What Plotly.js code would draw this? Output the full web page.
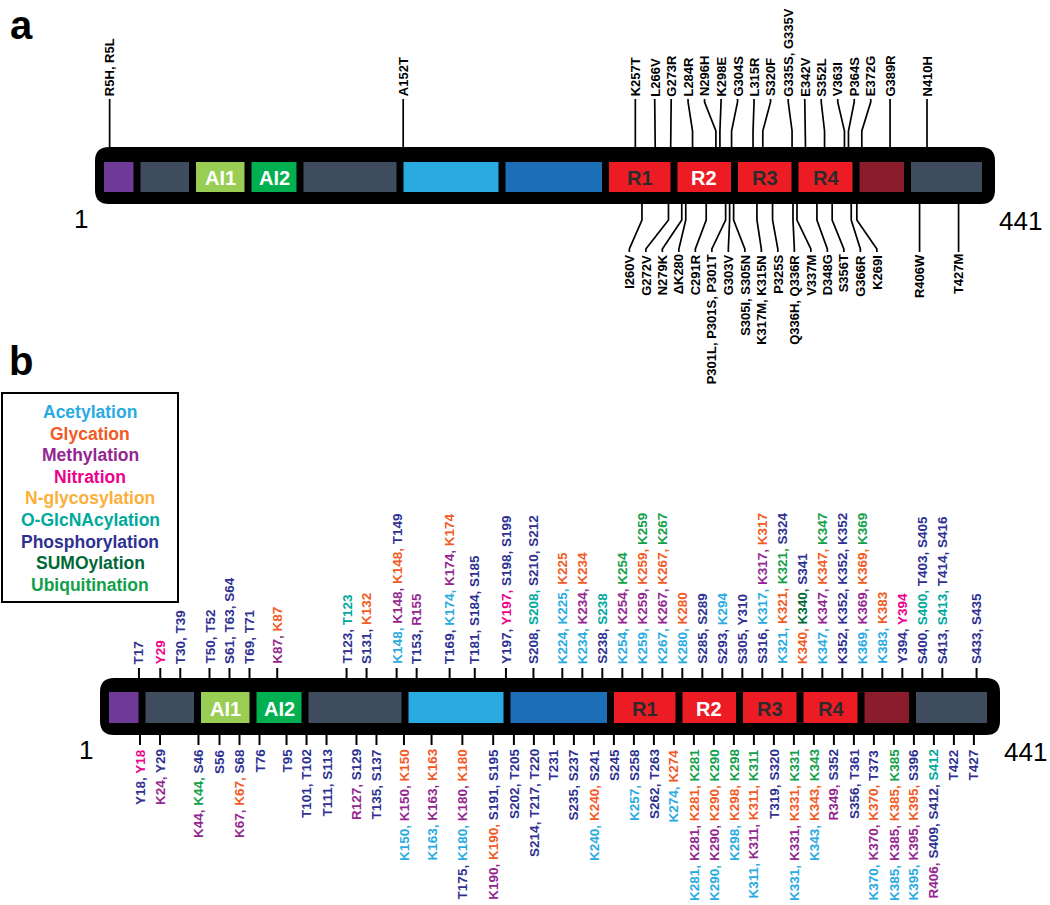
<!DOCTYPE html>
<html><head><meta charset="utf-8">
<script src="https://cdn.plot.ly/plotly-3.0.1.min.js"></script>
<style>html,body{margin:0;padding:0;background:#fff}</style>
</head><body><div id="chart" style="width:1050px;height:905px"></div>
<script>
// ================= DATA =================
const proteinLength = 441;
const domainStart = [1, 19, 45, 74, 103, 151, 199, 244, 275, 306, 337, 369, 400];
const domainEnd   = [18, 44, 73, 102, 150, 198, 243, 274, 305, 336, 368, 399, 441];
const domainLabel = ['', '', 'AI1', 'AI2', '', '', '', 'R1', 'R2', 'R3', 'R4', '', ''];

// panel a: disease mutations
const mutTopResidue = [5, 152, 257, 266, 273, 284, 296, 298, 304, 315, 320, 335, 342, 352, 363, 364, 372, 389, 410];
const mutTopLabel = ['R5H, R5L', 'A152T', 'K257T', 'L266V', 'G273R', 'L284R', 'N296H', 'K298E', 'G304S', 'L315R',
  'S320F', 'G335S, G335V', 'E342V', 'S352L', 'V363I', 'P364S', 'E372G', 'G389R', 'N410H'];
const mutBottomResidue = [260, 272, 279, 280, 291, 301, 303, 305, 317, 325, 336, 337, 348, 356, 366, 369, 406, 427];
const mutBottomLabel = ['I260V', 'G272V', 'N279K', 'ΔK280', 'C291R', 'P301L, P301S, P301T', 'G303V', 'S305I, S305N',
  'K317M, K315N', 'P325S', 'Q336H, Q336R', 'V337M', 'D348G', 'S356T', 'G366R', 'K269I', 'R406W', 'T427M'];

// panel b: post-translational modifications
const ptmTypeKeys  = ['Ac', 'Gly', 'Me', 'Ni', 'NG', 'OG', 'Ph', 'SU', 'Ub'];
const ptmTypeNames = ['Acetylation', 'Glycation', 'Methylation', 'Nitration', 'N-glycosylation',
  'O-GlcNAcylation', 'Phosphorylation', 'SUMOylation', 'Ubiquitination'];

const ptmTopSites = [
  ['T17'], ['Y29'], ['T30', 'T39'], ['T50', 'T52'], ['S61', 'T63', 'S64'], ['T69', 'T71'],
  ['K87', 'K87'], ['T123', 'T123'], ['S131', 'K132'], ['K148', 'K148', 'K148', 'T149'], ['T153', 'R155'],
  ['T169', 'K174', 'K174', 'K174'], ['T181', 'S184', 'S185'], ['Y197', 'Y197', 'S198', 'S199'],
  ['S208', 'S208', 'S210', 'S212'], ['K224', 'K225', 'K225'], ['K234', 'K234', 'K234'], ['S238', 'S238'],
  ['K254', 'K254', 'K254'], ['K259', 'K259', 'K259', 'K259'], ['K267', 'K267', 'K267', 'K267'], ['K280', 'K280'],
  ['S285', 'S289'], ['S293', 'K294'], ['S305', 'Y310'], ['S316', 'K317', 'K317', 'K317'], ['K321', 'K321', 'K321', 'S324'],
  ['K340', 'K340', 'S341'], ['K347', 'K347', 'K347', 'K347'], ['K352', 'K352', 'K352', 'K352'], ['K369', 'K369', 'K369', 'K369'],
  ['K383', 'K383'], ['Y394', 'Y394'], ['S400', 'S400', 'T403', 'S405'], ['S413', 'S413', 'T414', 'S416'], ['S433', 'S435']
];
const ptmTopTypes = [
  ['Ph'], ['Ni'], ['Ph', 'Ph'], ['Ph', 'Ph'], ['Ph', 'Ph', 'Ph'], ['Ph', 'Ph'],
  ['Me', 'Gly'], ['Ph', 'OG'], ['Ph', 'Gly'], ['Ac', 'Me', 'Gly', 'Ph'], ['Ph', 'Me'],
  ['Ph', 'Ac', 'Me', 'Gly'], ['Ph', 'Ph', 'Ph'], ['Ph', 'Ni', 'Ph', 'Ph'],
  ['Ph', 'OG', 'Ph', 'Ph'], ['Ac', 'Ac', 'Gly'], ['Ac', 'Me', 'Gly'], ['Ph', 'OG'],
  ['Ac', 'Me', 'Ub'], ['Ac', 'Me', 'Gly', 'Ub'], ['Ac', 'Me', 'Gly', 'Ub'], ['Ac', 'Gly'],
  ['Ph', 'Ph'], ['Ph', 'Ac'], ['Ph', 'Ph'], ['Ph', 'Ac', 'Me', 'Gly'], ['Ac', 'Gly', 'Ub', 'Ph'],
  ['Gly', 'SU', 'Ph'], ['Ac', 'Me', 'Gly', 'Ub'], ['Ph', 'Ph', 'Ph', 'Ph'], ['Ac', 'Me', 'Gly', 'Ub'],
  ['Ac', 'Gly'], ['Ph', 'Ni'], ['Ph', 'OG', 'Ph', 'Ph'], ['Ph', 'OG', 'Ph', 'Ph'], ['Ph', 'Ph']
];
const ptmBottomSites = [
  ['Y18', 'Y18'], ['K24', 'Y29'], ['K44', 'K44', 'S46'], ['S56'], ['K67', 'K67', 'S68'], ['T76'], ['T95'],
  ['T101', 'T102'], ['T111', 'S113'], ['R127', 'S129'], ['T135', 'S137'], ['K150', 'K150', 'K150'],
  ['K163', 'K163', 'K163'], ['T175', 'K180', 'K180', 'K180'], ['K190', 'K190', 'S191', 'S195'],
  ['S202', 'T205'], ['S214', 'T217', 'T220'], ['T231'], ['S235', 'S237'], ['K240', 'K240', 'S241'], ['S245'],
  ['K257', 'S258'], ['S262', 'T263'], ['K274', 'K274'], ['K281', 'K281', 'K281', 'K281'], ['K290', 'K290', 'K290', 'K290'],
  ['K298', 'K298', 'K298'], ['K311', 'K311', 'K311', 'K311'], ['T319', 'S320'], ['K331', 'K331', 'K331', 'K331'],
  ['K343', 'K343', 'K343'], ['R349', 'S352'], ['S356', 'T361'], ['K370', 'K370', 'K370', 'T373'],
  ['K385', 'K385', 'K385', 'K385'], ['K395', 'K395', 'K395', 'S396'], ['R406', 'S409', 'S412', 'S412'], ['T422'], ['T427']
];
const ptmBottomTypes = [
  ['Ph', 'Ni'], ['Me', 'Ph'], ['Me', 'Ub', 'Ph'], ['Ph'], ['Me', 'Gly', 'Ph'], ['Ph'], ['Ph'],
  ['Ph', 'Ph'], ['Ph', 'Ph'], ['Me', 'Ph'], ['Ph', 'Ph'], ['Ac', 'Me', 'Gly'],
  ['Ac', 'Me', 'Gly'], ['Ph', 'Ac', 'Me', 'Gly'], ['Me', 'Gly', 'Ph', 'Ph'],
  ['Ph', 'Ph'], ['Ph', 'Ph', 'Ph'], ['Ph'], ['Ph', 'Ph'], ['Ac', 'Gly', 'Ph'], ['Ph'],
  ['Ac', 'Ph'], ['Ph', 'Ph'], ['Ac', 'Gly'], ['Ac', 'Me', 'Gly', 'Ub'], ['Ac', 'Me', 'Gly', 'Ub'],
  ['Ac', 'Gly', 'Ub'], ['Ac', 'Me', 'Gly', 'Ub'], ['Ph', 'Ph'], ['Ac', 'Me', 'Gly', 'Ub'],
  ['Ac', 'Gly', 'Ub'], ['Me', 'Ph'], ['Ph', 'Ph'], ['Ac', 'Me', 'Gly', 'Ph'],
  ['Ac', 'Me', 'Gly', 'Ub'], ['Ac', 'Me', 'Gly', 'Ph'], ['Me', 'Ph', 'Ph', 'OG'], ['Ph'], ['Ph']
];

// ================= STYLE / LAYOUT =================
const FONT = 'Arial, "Liberation Sans", sans-serif';
const ptmTypeColors = ['#29ABE2', '#F15A24', '#93278F', '#EC008C', '#FBB03B', '#00A99D', '#2E3192', '#006837', '#12A04A'];
const domainColors = ['#6F3A97', '#3E4C5E', '#9ACD53', '#00B050', '#3E4C5E', '#29ABE2', '#1C6FB7',
  '#ED1C24', '#ED1C24', '#ED1C24', '#ED1C24', '#8A1C2C', '#3E4C5E'];
const domainTextColors = ['#fff', '#fff', '#fff', '#fff', '#fff', '#fff', '#fff', '#2B2B2B', '#fff', '#2B2B2B', '#2B2B2B', '#fff', '#fff'];
// schematic position (x-axis units) of each domain boundary
const boundaryX = [100.5, 137, 192.5, 248, 300, 400, 502, 605.5, 674, 734.5, 795, 856, 907.5, 985.5];
const boundaryRes = domainStart.map(s => s - 0.5).concat([domainEnd[domainEnd.length - 1] + 0.5]);

function pos(r) {
  const R = boundaryRes, X = boundaryX;
  if (r <= R[0]) return X[0];
  for (let i = 0; i < R.length - 1; i++) {
    if (r <= R[i + 1]) return X[i] + (r - R[i]) * (X[i + 1] - X[i]) / (R[i + 1] - R[i]);
  }
  return X[X.length - 1];
}
// 1-D label de-overlap: keeps order, minimum spacing "gap", clusters centred on targets
function repel(targets, gap, lo, hi) {
  const order = targets.map((t, i) => i).sort((a, b) => targets[a] - targets[b]);
  const clusters = [];
  const fit = c => {
    let s = 0; c.m.forEach((m, k) => { s += targets[m] - k * gap; });
    c.start = Math.max(lo, Math.min(hi - (c.m.length - 1) * gap, s / c.m.length));
  };
  for (const i of order) {
    const c = { m: [i] }; fit(c); clusters.push(c);
    while (clusters.length > 1) {
      const b = clusters[clusters.length - 1], a = clusters[clusters.length - 2];
      if (a.start + a.m.length * gap > b.start) { a.m = a.m.concat(b.m); clusters.pop(); fit(a); } else break;
    }
  }
  const out = new Array(targets.length);
  clusters.forEach(c => c.m.forEach((m, k) => { out[m] = c.start + k * gap; }));
  return out;
}

const panels = {
  a: { xref: 'x', barTop: 147, barBot: 204, boxTop: 162, boxBot: 192 },
  b: { xref: 'x2', barTop: 678, barBot: 735, boxTop: 692, boxBot: 723 }
};
const traces = [];
const shapes = [];
const annotations = [];

function drawProtein(P) {
  const x0 = pos(boundaryRes[0]) - 5.5, x1 = pos(boundaryRes[boundaryRes.length - 1]) + 9.5;
  const y0 = P.barTop, y1 = P.barBot, r = 14;
  shapes.push({
    type: 'path', xref: P.xref, yref: 'y', fillcolor: '#000', line: { width: 0 }, layer: 'below',
    path: `M${x0 + r},${y0} L${x1 - r},${y0} Q${x1},${y0} ${x1},${y0 + r} L${x1},${y1 - r} Q${x1},${y1} ${x1 - r},${y1} ` +
      `L${x0 + r},${y1} Q${x0},${y1} ${x0},${y1 - r} L${x0},${y0 + r} Q${x0},${y0} ${x0 + r},${y0} Z`
  });
  domainStart.forEach((s, i) => {
    const bx0 = pos(s - 0.5) + 3.5, bx1 = pos(domainEnd[i] + 0.5) - 3.5;
    shapes.push({ type: 'rect', xref: P.xref, yref: 'y', x0: bx0, x1: bx1, y0: P.boxTop, y1: P.boxBot,
      fillcolor: domainColors[i], line: { width: 0 }, layer: 'below' });
    if (domainLabel[i]) annotations.push({ xref: P.xref, yref: 'y', x: (bx0 + bx1) / 2, y: (P.boxTop + P.boxBot) / 2 + 1,
      text: domainLabel[i], showarrow: false, font: { family: FONT, size: 20, weight: 700, color: domainTextColors[i] } });
  });
  annotations.push({ xref: P.xref, yref: 'y', x: x0 - 14, y: y1 + 15, text: '1', showarrow: false,
    font: { family: FONT, size: 26, color: '#000' } });
  annotations.push({ xref: P.xref, yref: 'y', x: x1 + 25, y: y1 + 17, text: String(proteinLength), showarrow: false,
    font: { family: FONT, size: 26, color: '#000' } });
}
drawProtein(panels.a);
drawProtein(panels.b);

// ---- panel a: mutations with leader lines ----
function drawMutations(residues, labels, side) {
  const P = panels.a;
  const bases = repel(residues.map(pos), 4, 100, 990);
  const slots = repel(bases, 16.5, 100, 990);
  const xs = [], ys = [];
  const yBar = side === 'top' ? P.barTop : P.barBot;
  const d = side === 'top' ? -1 : 1;
  const k1 = yBar + d * 16, k2 = yBar + d * 45, yEnd = yBar + d * 48;
  residues.forEach((r, i) => {
    xs.push(bases[i], bases[i], slots[i], slots[i], null);
    ys.push(yBar, k1, k2, yEnd, null);
    annotations.push({ xref: 'x', yref: 'y', x: slots[i], y: yEnd + d * 1.5, text: labels[i], textangle: -90,
      xanchor: 'center', yanchor: side === 'top' ? 'bottom' : 'top', showarrow: false, borderpad: 0,
      font: { family: FONT, size: 13, weight: 700, color: '#000' } });
  });
  traces.push({ type: 'scatter', mode: 'lines', x: xs, y: ys, xaxis: 'x', yaxis: 'y',
    line: { color: '#000', width: 1.7 }, hoverinfo: 'skip', showlegend: false });
}
drawMutations(mutTopResidue, mutTopLabel, 'top');
drawMutations(mutBottomResidue, mutBottomLabel, 'bottom');

// ---- panel b: PTM sites ----
const typeColor = k => ptmTypeColors[ptmTypeKeys.indexOf(k)];
function drawPTM(sites, types, side) {
  const P = panels.b;
  const targets = sites.map(g => {
    const u = [...new Set(g.map(s => parseInt(s.slice(1), 10)))];
    return pos(u.reduce((a, b) => a + b, 0) / u.length);
  });
  const slots = repel(targets, 20, 112, 990);
  const yBar = side === 'top' ? P.barTop : P.barBot;
  const d = side === 'top' ? -1 : 1;
  const xs = [], ys = [];
  sites.forEach((g, i) => {
    xs.push(slots[i], slots[i], null);
    ys.push(yBar, yBar + d * 10, null);
    const txt = g.map((s, j) => `<span style="color:${typeColor(types[i][j])}">${s}${j < g.length - 1 ? ', ' : ''}</span>`).join('');
    annotations.push({ xref: 'x2', yref: 'y', x: slots[i], y: yBar + d * 13, text: txt, textangle: -90,
      xanchor: 'center', yanchor: side === 'top' ? 'bottom' : 'top', showarrow: false, borderpad: 0,
      font: { family: FONT, size: 13.5, weight: 700, color: '#2E3192' } });
  });
  traces.push({ type: 'scatter', mode: 'lines', x: xs, y: ys, xaxis: 'x2', yaxis: 'y',
    line: { color: '#000', width: 2 }, hoverinfo: 'skip', showlegend: false });
}
drawPTM(ptmTopSites, ptmTopTypes, 'top');
drawPTM(ptmBottomSites, ptmBottomTypes, 'bottom');

// ---- legend box ----
shapes.push({ type: 'rect', xref: 'x', yref: 'y', x0: 2, x1: 178, y0: 393, y1: 602, line: { color: '#000', width: 2 }, fillcolor: 'rgba(0,0,0,0)' });
ptmTypeNames.forEach((n, i) => annotations.push({ xref: 'x', yref: 'y', x: 90, y: 412 + i * 21.6, text: n, showarrow: false,
  font: { family: FONT, size: 17.5, weight: 700, color: ptmTypeColors[i] } }));

// panel letters
annotations.push({ xref: 'x', yref: 'y', x: 21, y: 25, text: 'a', showarrow: false, font: { family: FONT, size: 40, weight: 700, color: '#000' } });
annotations.push({ xref: 'x', yref: 'y', x: 21, y: 361, text: 'b', showarrow: false, font: { family: FONT, size: 40, weight: 700, color: '#000' } });

const layout = {
  width: 1050, height: 905, margin: { l: 0, r: 0, t: 0, b: 0, pad: 0 },
  paper_bgcolor: '#fff', plot_bgcolor: '#fff', showlegend: false,
  xaxis: { range: [0, 1050], visible: false, fixedrange: true, domain: [0, 1] },
  xaxis2: { range: [-5, 1045], visible: false, fixedrange: true, overlaying: 'x', anchor: 'y', domain: [0, 1] },
  yaxis: { range: [905, 0], visible: false, fixedrange: true, domain: [0, 1] },
  shapes: shapes, annotations: annotations
};
Plotly.newPlot('chart', traces, layout, { staticPlot: true, displayModeBar: false });
</script></body></html>
